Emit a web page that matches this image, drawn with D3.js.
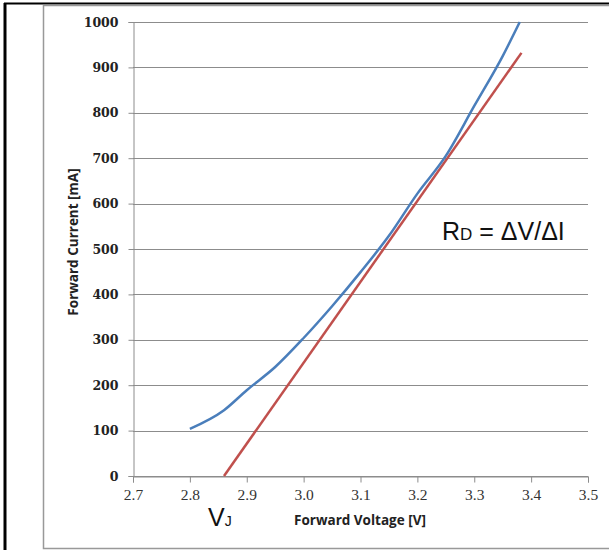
<!DOCTYPE html>
<html><head><meta charset="utf-8">
<script src="https://cdn.jsdelivr.net/npm/d3@7"></script>
<style>body{margin:0;background:#fff;} svg{display:block;}</style>
</head><body>
<script>
const xTicks = [2.7, 2.8, 2.9, 3.0, 3.1, 3.2, 3.3, 3.4, 3.5];
const xTickLabels = ["2.7", "2.8", "2.9", "3.0", "3.1", "3.2", "3.3", "3.4", "3.5"];
const yTicks = [0, 100, 200, 300, 400, 500, 600, 700, 800, 900, 1000];
const measuredV = [2.80, 2.86, 2.90, 2.95, 3.00, 3.05, 3.10, 3.15, 3.20, 3.25, 3.30, 3.35, 3.38];
const measuredI = [104, 145, 189, 240, 304, 374, 449, 529, 622, 705, 815, 925, 1000];
const fitV = [2.86, 3.383];
const fitI = [0, 932];

const W = 609, H = 550;
const svg = d3.select("body").append("svg").attr("width", W).attr("height", H);

// frame
svg.append("line").attr("x1", 4).attr("x2", W).attr("y1", 3.5).attr("y2", 3.5).attr("stroke", "#000").attr("stroke-width", 2);
svg.append("line").attr("x1", 5).attr("x2", 5).attr("y1", 3).attr("y2", H).attr("stroke", "#000").attr("stroke-width", 3);
svg.append("path").attr("d", `M${W},5.5H43.5V548.5H${W}`).attr("fill", "none").attr("stroke", "#999").attr("stroke-width", 1.5);

const x = d3.scaleLinear().domain([2.7, 3.5]).range([133, 588]);
const y = d3.scaleLinear().domain([0, 1000]).range([476, 22]);

// gridlines
svg.append("g").selectAll("line").data(yTicks).join("line")
  .attr("x1", x(2.7)).attr("x2", x(3.5))
  .attr("y1", d => Math.round(y(d)) + 0.5).attr("y2", d => Math.round(y(d)) + 0.5)
  .attr("stroke", "#8c8c8c").attr("stroke-width", 1);

// y axis
const yAxis = svg.append("g").attr("transform", `translate(${x(2.7) + 0.5},0)`)
  .call(d3.axisLeft(y).tickValues(yTicks).tickSize(5).tickPadding(10).tickFormat(d3.format("d")));
yAxis.select(".domain").attr("stroke", "#8c8c8c");
yAxis.selectAll(".tick line").attr("stroke", "#8c8c8c");
yAxis.selectAll("text").attr("font-family", "'DejaVu Serif', serif").attr("font-weight", "bold")
  .attr("font-size", 12.5).attr("fill", "#222");

// x axis
const xAxis = svg.append("g").attr("transform", `translate(0,${Math.round(y(0)) + 0.5})`)
  .call(d3.axisBottom(x).tickValues(xTicks).tickSize(6).tickPadding(6).tickFormat((d, i) => xTickLabels[i]));
xAxis.select(".domain").attr("stroke", "#8c8c8c");
xAxis.selectAll(".tick line").attr("stroke", "#8c8c8c");
xAxis.selectAll("text").attr("font-family", "'Liberation Serif', serif")
  .attr("font-size", 15.5).attr("fill", "#333");

// lines
const measured = measuredV.map((v, i) => [v, measuredI[i]]);
const fit = fitV.map((v, i) => [v, fitI[i]]);
const line = d3.line().x(d => x(d[0])).y(d => y(d[1]));
svg.append("path").datum(fit).attr("d", line).attr("fill", "none")
  .attr("stroke", "#c0504d").attr("stroke-width", 2.5);
svg.append("path").datum(measured).attr("d", line.curve(d3.curveMonotoneX)).attr("fill", "none")
  .attr("stroke", "#4a7ebb").attr("stroke-width", 2.5);

// axis titles
svg.append("text").attr("transform", "translate(78,242) rotate(-90)").attr("text-anchor", "middle")
  .attr("font-family", "'Open Sans', sans-serif").attr("font-weight", "bold").attr("font-size", 13.5)
  .attr("fill", "#222").text("Forward Current [mA]");
svg.append("text").attr("x", 360).attr("y", 525).attr("text-anchor", "middle")
  .attr("font-family", "'Open Sans', sans-serif").attr("font-weight", "bold").attr("font-size", 13.5)
  .attr("fill", "#222").text("Forward Voltage [V]");

// annotations
const rd = svg.append("text").attr("x", 442).attr("y", 240)
  .attr("font-family", "'Liberation Sans', Arial, sans-serif").attr("font-size", 25).attr("fill", "#111");
rd.append("tspan").text("R");
rd.append("tspan").attr("font-size", 17).text("D");
rd.append("tspan").text(" = ΔV/ΔI");

const vj = svg.append("text").attr("x", 208).attr("y", 526)
  .attr("font-family", "'Liberation Sans', Arial, sans-serif").attr("font-size", 25).attr("fill", "#111");
vj.append("tspan").text("V");
vj.append("tspan").attr("font-size", 14).text("J");
</script>
</body></html>
